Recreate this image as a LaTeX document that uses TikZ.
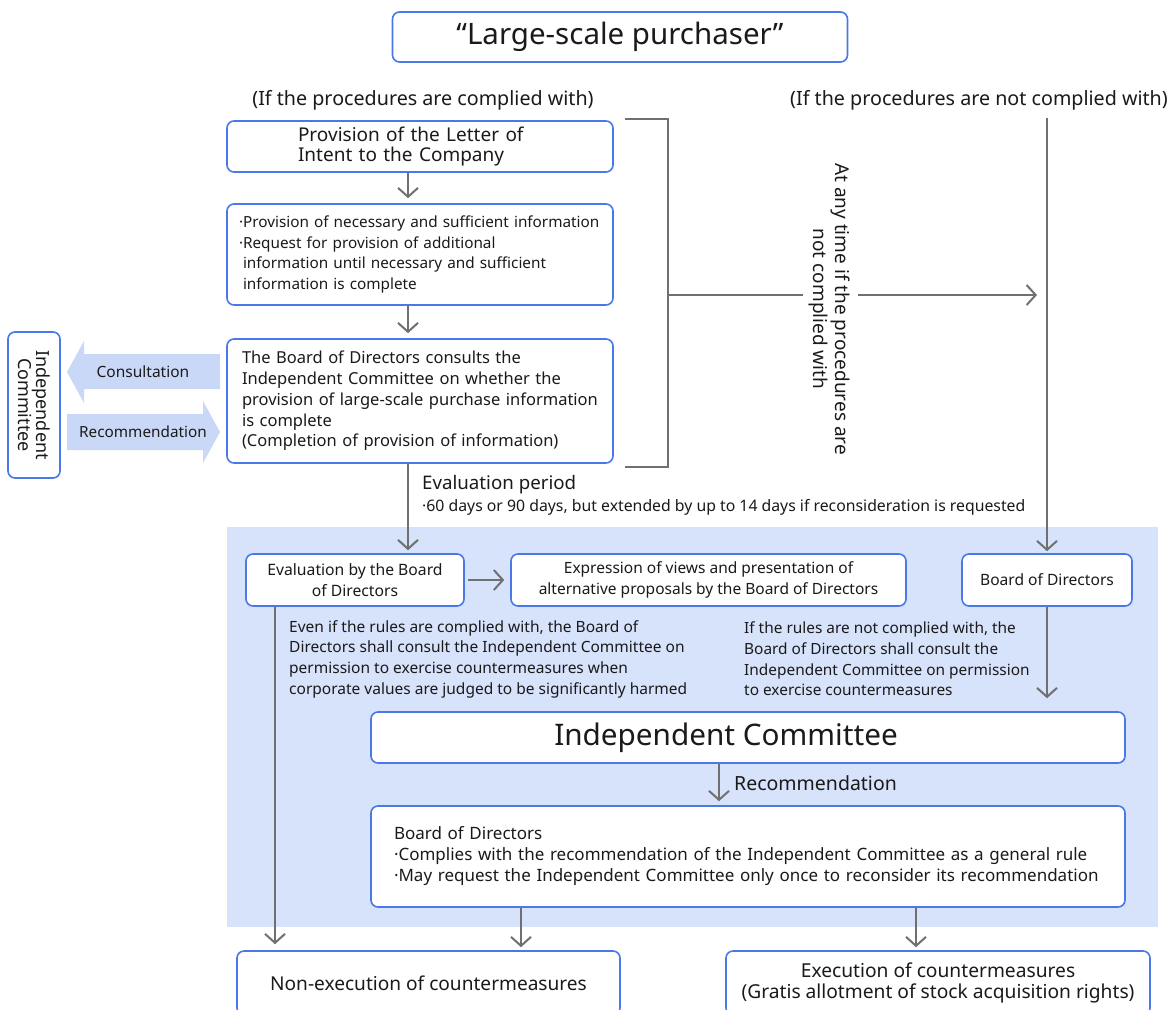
\documentclass[tikz,border=0pt]{standalone}
\usepackage{fontspec}
\setmainfont{Noto Sans}
\usetikzlibrary{arrows.meta}
\definecolor{boxblue}{HTML}{4A78E8}
\definecolor{bgblue}{HTML}{D7E2FB}
\definecolor{arrblue}{HTML}{CAD8F8}
\definecolor{linegray}{HTML}{707070}
\definecolor{txt}{HTML}{1A1A1A}
\newcommand\fsz[2]{\fontsize{#1}{#2}\selectfont}
\begin{document}
\begin{tikzpicture}[x=1pt,y=-1pt,
  box/.style={draw=boxblue, line width=1.6pt, rounded corners=7pt, fill=white, inner sep=0pt, text=txt},
  lbl/.style={inner sep=0pt, text=txt},
  conn/.style={draw=linegray, line width=2pt},
  arr/.style={conn, -{Straight Barb[length=9pt,width=20pt]}}]
\clip (0,0) rectangle (1174,1009);
\fill[white] (0,0) rectangle (1174,1009);
\fill[bgblue] (227,527) rectangle (1158,927);

% top
\node[box, minimum width=455pt, minimum height=50pt, font=\fsz{29.5}{34}] (title) at (620,37) {“Large-scale purchaser”};
\node[lbl, font=\fsz{19.7}{22}] (lc) at (423,100) {(If the procedures are complied with)};
\node[lbl, font=\fsz{19.7}{22}, anchor=east] (lnc) at (1168,100) {(If the procedures are not complied with)};

\node[box, minimum width=386pt, minimum height=51pt, font=\fsz{19}{20.5}, align=left, text width=244pt] (b1) at (420,146.5) {Provision of the Letter of\\Intent to the Company};
\node[box, minimum width=386pt, minimum height=101pt, font=\fsz{15.3}{20.5}, align=left, text width=362pt] (b2) at (420,254.5) {\mbox{·Provision of necessary and sufficient information}\\·Request for provision of additional\\\hspace*{4pt}information until necessary and sufficient\\\hspace*{4pt}information is complete};
\node[box, minimum width=386pt, minimum height=124pt, font=\fsz{16.5}{20.7}, align=left, text width=356pt] (b3) at (420,401) {The Board of Directors consults the\\Independent Committee on whether the\\provision of large-scale purchase information\\is complete\\(Completion of provision of information)};

\draw[arr, shorten >=5pt] ([xshift=-12pt]b1.south) -- ([xshift=-12pt]b2.north);
\draw[arr, shorten >=5pt] ([xshift=-12pt]b2.south) -- ([xshift=-12pt]b3.north);

% bracket
\coordinate (brTop) at (625,119);
\coordinate (brBot) at (625,467);
\coordinate (brMid) at (668,295);
\coordinate (gapL) at (803,295);
\coordinate (gapR) at (858,295);
\coordinate (arrEnd) at (1037,295);
\draw[conn] (brTop) -| (brMid) |- (brBot);
\draw[conn] (brMid) -- (gapL);
\draw[arr] (gapR) -- (arrEnd);
\node[lbl, rotate=-90, align=center, font=\fsz{19}{22}] (rot) at (829,309) {At any time if the procedures are\\not complied with};

% left committee
\node[box, rotate=-90, minimum width=146pt, minimum height=52pt, font=\fsz{18}{18}, align=center] (ics) at (34,405) {Independent\\Committee};
\fill[arrblue] (67,372) -- (84,341) -- (84,354) -- (220,354) -- (220,389) -- (84,389) -- (84,403) -- cycle;
\node[lbl, font=\fsz{15.5}{18}] (consl) at (143,372) {Consultation};
\fill[arrblue] (220,432) -- (203,401) -- (203,414) -- (67,414) -- (67,450) -- (203,450) -- (203,463) -- cycle;
\node[lbl, font=\fsz{15.3}{18}] (recl) at (143,432) {Recommendation};

% evaluation period
\node[lbl, anchor=west, font=\fsz{18.7}{22}] (evp) at (422,485) {Evaluation period};
\node[lbl, anchor=west, font=\fsz{15.8}{18}] (evd) at (422,507) {·60 days or 90 days, but extended by up to 14 days if reconsideration is requested};

% blue area boxes
\node[box, minimum width=218pt, minimum height=52pt, align=center, font=\fsz{15.7}{21}] (ev) at (355,580) {Evaluation by the Board\\of Directors};
\node[box, minimum width=395pt, minimum height=52pt, align=center, font=\fsz{15.5}{21}] (ex) at (708.5,580) {Expression of views and presentation of\\alternative proposals by the Board of Directors};
\node[box, minimum width=170pt, minimum height=52pt, font=\fsz{15.6}{20}] (bR) at (1047,580) {Board of Directors};

\draw[arr, shorten <=3pt, shorten >=6pt] (ev.east) -- (ex.west);
\draw[arr, shorten >=3pt] ([xshift=-12pt]b3.south) -- ([xshift=-12pt]b3.south |- ev.north);
\coordinate (rTop) at (1047,118);
\draw[arr, shorten >=2pt] (rTop) -- (bR.north);

\node[lbl, anchor=west, align=left, font=\fsz{15.5}{20.7}] (tl) at (289,659) {Even if the rules are complied with, the Board of\\Directors shall consult the Independent Committee on\\permission to exercise countermeasures when\\corporate values are judged to be significantly harmed};
\node[lbl, anchor=west, align=left, font=\fsz{15.4}{20.7}] (tr) at (744,659) {If the rules are not complied with, the\\Board of Directors shall consult the\\Independent Committee on permission\\to exercise countermeasures};

\node[box, minimum width=754pt, minimum height=51pt] (icb) at (748,737.5) {};
\node[lbl, font=\fsz{29.7}{34}] (icbt) at (726,737.5) {Independent Committee};
\draw[arr, shorten >=13pt] (bR.south) -- (bR.south |- icb.north);

\node[box, minimum width=754pt, minimum height=101pt, align=left, text width=708pt, font=\fsz{17}{21}] (bd) at (748,856.5) {Board of Directors\\·Complies with the recommendation of the Independent Committee as a general rule\\·May request the Independent Committee only once to reconsider its recommendation};
\draw[arr, shorten >=4pt] ([xshift=-29pt]icb.south) -- ([xshift=-29pt]bd.north);
\node[lbl, anchor=west, font=\fsz{19.5}{22}] (recb) at (734,783) {Recommendation};

% bottom
\node[box, minimum width=383pt, minimum height=64pt, font=\fsz{19.1}{21}] (ne) at (428.5,983) {Non-execution of countermeasures};
\node[box, minimum width=424pt, minimum height=64pt, align=center, font=\fsz{19.2}{21}] (exb) at (938,983) {Execution of countermeasures\\(Gratis allotment of stock acquisition rights)};

\draw[arr, shorten >=6pt] ([xshift=-80pt]ev.south) -- ([xshift=-80pt]ev.south |- ne.north);
\draw[arr, shorten >=3pt] ([xshift=-227pt]bd.south) -- ([xshift=-227pt]bd.south |- ne.north);
\draw[arr, shorten >=3pt] ([xshift=168pt]bd.south) -- ([xshift=168pt]bd.south |- exb.north);
\end{tikzpicture}
\end{document}
